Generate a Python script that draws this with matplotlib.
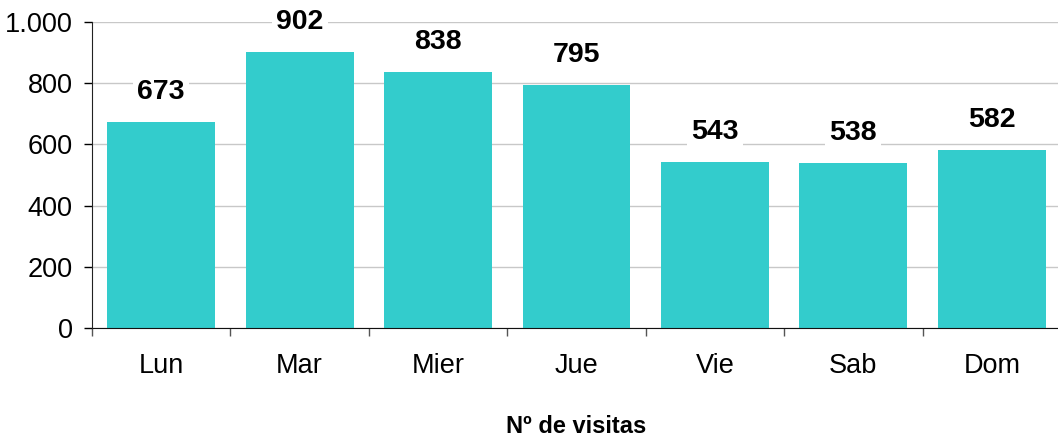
import matplotlib
matplotlib.use("Agg")
import matplotlib.pyplot as plt
from matplotlib.ticker import FuncFormatter, FixedLocator

plt.rcParams['font.family'] = ['Liberation Sans', 'DejaVu Sans']

categories = ["Lun", "Mar", "Mier", "Jue", "Vie", "Sab", "Dom"]
visitas = [673, 902, 838, 795, 543, 538, 582]
yticks = [0, 200, 400, 600, 800, 1000]
xlabel = "Nº de visitas"

fig = plt.figure(figsize=(10.58, 4.41), dpi=100)
W, H = 1058, 441
left, right, top, bottom = 92, 1061, 22, 328
ax = fig.add_axes([left / W, 1 - bottom / H, (right - left) / W, (bottom - top) / H])

x = list(range(len(categories)))
ax.bar(x, visitas, width=0.78, color="#33CCCC", zorder=2)
ax.set_xlim(-0.5, len(categories) - 0.5)
ax.set_ylim(0, 1000)

ax.set_yticks(yticks)
ax.yaxis.set_major_formatter(FuncFormatter(lambda v, p: f"{int(v):,}".replace(",", ".")))
ax.yaxis.grid(True, color="#C8C8C8", linewidth=1, zorder=0)
ax.set_axisbelow(True)

ax.set_xticks(x)
ax.set_xticklabels(categories)
ax.xaxis.set_minor_locator(FixedLocator([i - 0.5 for i in range(len(categories) + 1)]))
ax.tick_params(axis='x', which='major', length=0, pad=18, labelsize=19.5)
ax.tick_params(axis='x', which='minor', length=6, width=1, direction='out', color="#555555")
ax.tick_params(axis='y', length=6, width=1, direction='out', labelsize=19.5, pad=8)

for s in ["top", "right"]:
    ax.spines[s].set_visible(False)
ax.spines["left"].set_color("#222222")
ax.spines["bottom"].set_color("#111111")
ax.spines["left"].set_zorder(3)

for xi, v in zip(x, visitas):
    ax.annotate(f"{v}", (xi, v), xytext=(0, 30), textcoords="offset pixels",
                ha="center", va="center", fontsize=20.5, fontweight="bold",
                bbox=dict(boxstyle="square,pad=0.15", fc="white", ec="none"), zorder=4,
                annotation_clip=False)

ax.set_xlabel(xlabel, fontsize=17, fontweight="bold", labelpad=26)

fig.savefig("out.png", dpi=100)
